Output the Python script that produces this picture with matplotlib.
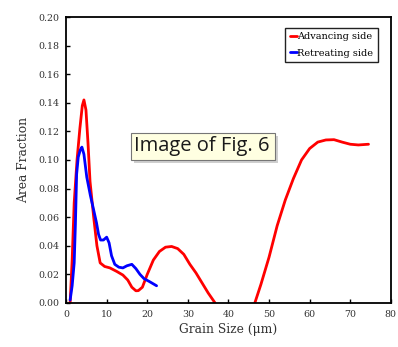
import numpy as np
import matplotlib
matplotlib.use('Agg')
import matplotlib.pyplot as plt
from matplotlib.patches import FancyBboxPatch

# grain size distribution, advancing side (gap where the fraction is zero)
adv_size = [1.0, 1.5, 2.0, 2.7, 3.4, 4.0, 4.4, 4.9, 5.4, 5.9, 6.8, 7.6, 8.4, 9.5,
            10.8, 12.5, 14.0, 15.2, 16.2, 17.2, 17.8, 18.8, 20.0, 21.5, 23.0,
            24.5, 26.0, 27.5, 29.0, 30.5, 32.0, 33.5, 35.0, 36.7, np.nan,
            46.5, 48.0, 50.0, 52.0, 54.0, 56.0, 58.0, 60.0, 62.0, 64.0, 66.0,
            68.0, 70.0, 72.0, 74.5]
adv_frac = [0.0, 0.03, 0.07, 0.10, 0.122, 0.138, 0.142, 0.135, 0.112, 0.085, 0.060,
            0.040, 0.028, 0.0255, 0.0245, 0.022, 0.0195, 0.016, 0.011, 0.0085,
            0.0086, 0.011, 0.020, 0.030, 0.036, 0.039, 0.0395, 0.038, 0.034,
            0.027, 0.021, 0.014, 0.007, 0.0, np.nan,
            0.0, 0.013, 0.032, 0.054, 0.072, 0.087, 0.100, 0.108, 0.1125, 0.114,
            0.1142, 0.1125, 0.111, 0.1105, 0.111]

# retreating side
ret_size = [1.0, 1.5, 2.0, 2.3, 2.6, 3.0, 3.5, 3.9, 4.4, 5.1, 6.0, 6.8, 7.5, 8.0,
            8.5, 9.2, 10.0, 10.6, 11.2, 12.0, 13.0, 14.0, 15.0, 16.2, 17.2,
            18.2, 19.2, 20.5, 22.3]
ret_frac = [0.002, 0.012, 0.028, 0.055, 0.09, 0.102, 0.107, 0.109, 0.104, 0.088,
            0.075, 0.065, 0.056, 0.048, 0.044, 0.044, 0.046, 0.042, 0.033,
            0.027, 0.025, 0.0245, 0.026, 0.027, 0.024, 0.020, 0.017, 0.015, 0.012]

x_ticks = [0, 10, 20, 30, 40, 50, 60, 70, 80]
y_ticks = [0.00, 0.02, 0.04, 0.06, 0.08, 0.10, 0.12, 0.14, 0.16, 0.18, 0.20]

serif = 'DejaVu Serif'

fig = plt.figure(figsize=(3.98, 3.47), dpi=100)
ax = fig.add_axes([0.166, 0.127, 0.816, 0.824])

line_kw = dict(lw=2.0, solid_joinstyle='round', solid_capstyle='round')
ax.plot(adv_size, adv_frac, color='#ff0000', label='Advancing side', **line_kw)
ax.plot(ret_size, ret_frac, color='#0000ff', label='Retreating side', **line_kw)

ax.set_xlim(0, 80)
ax.set_ylim(0, 0.20)
ax.set_xticks(x_ticks)
ax.set_yticks(y_ticks)
ax.set_xticklabels([str(t) for t in x_ticks], fontfamily=serif, fontsize=6.8, color='#333333')
ax.set_yticklabels(['%.2f' % t for t in y_ticks], fontfamily=serif, fontsize=6.8, color='#333333')
ax.tick_params(direction='in', length=3, width=1, top=False, right=False, pad=5)
for s in ax.spines.values():
    s.set_linewidth(1.3)

ax.set_xlabel('Grain Size (\u03bcm)', fontfamily=serif, fontsize=8.8, color='#333333', labelpad=3)
ax.set_ylabel('Area Fraction', fontfamily=serif, fontsize=8.8, color='#333333', labelpad=6)

leg = ax.legend(loc='upper right', prop={'family': serif, 'size': 7},
                handlelength=0.7, handletextpad=0.1, borderpad=0.45,
                labelspacing=0.8, fancybox=False, framealpha=1,
                edgecolor='#222222', bbox_to_anchor=(0.975, 0.98))
leg.get_frame().set_linewidth(1.0)

# tooltip-style caption
tx, ty, tw, th = 131 / 398, 1 - 160 / 347, 144 / 398, 27 / 347
shadow = FancyBboxPatch((tx + 0.008, ty - 0.009), tw, th, boxstyle='square,pad=0',
                        transform=fig.transFigure, facecolor='#b0b0b0',
                        edgecolor='none', alpha=0.6, zorder=5)
box = FancyBboxPatch((tx, ty), tw, th, boxstyle='square,pad=0',
                     transform=fig.transFigure, facecolor='#ffffe1',
                     edgecolor='#767676', lw=0.8, zorder=6)
fig.patches.extend([shadow, box])
fig.text(tx + 0.007, ty + th / 2, 'Image of Fig. 6', fontsize=14.5,
         family='Open Sans', color='#1a1a1a', va='center', ha='left', zorder=7)

fig.savefig('out.png', dpi=100)
